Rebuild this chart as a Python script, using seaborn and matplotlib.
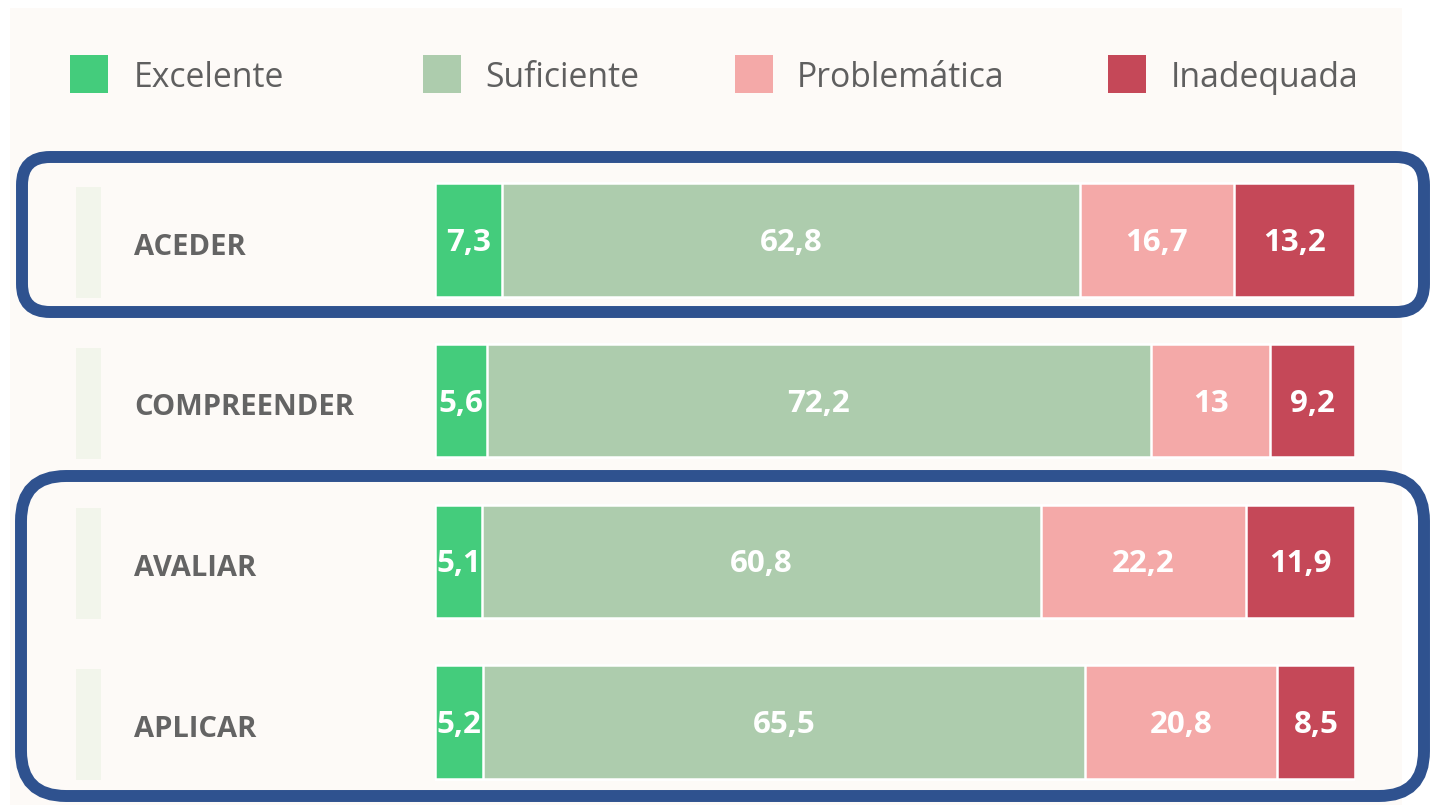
import numpy as np
import pandas as pd
import matplotlib
matplotlib.use("Agg")
import matplotlib.pyplot as plt
import matplotlib.transforms as mtransforms
from matplotlib.patches import Rectangle, FancyBboxPatch
import seaborn as sns

# ---- data ----
categories = ["ACEDER", "COMPREENDER", "AVALIAR", "APLICAR"]
levels = ["Excelente", "Suficiente", "Problemática", "Inadequada"]
excelente = [7.3, 5.6, 5.1, 5.2]
suficiente = [62.8, 72.2, 60.8, 65.5]
problematica = [16.7, 13.0, 22.2, 20.8]
inadequada = [13.2, 9.2, 11.9, 8.5]
colors = ["#44CC7C", "#ADCCAD", "#F4A9A8", "#C54858"]

values = np.array([excelente, suficiente, problematica, inadequada])  # levels x cats
cums = np.cumsum(values, axis=0)
starts = cums - values

rows = []
for li, lvl in enumerate(levels):
    for ci, cat in enumerate(categories):
        rows.append({"cat": cat, "level": lvl, "value": values[li, ci],
                     "cum": cums[li, ci], "start": starts[li, ci]})
df = pd.DataFrame(rows)

sns.set_theme(style="white")
plt.rcParams["font.family"] = ["Open Sans", "DejaVu Sans"]

W, H = 1430, 805
fig = plt.figure(figsize=(W / 100, H / 100), dpi=100, facecolor="white")


def fx(x):
    return x / W


def fy(y):
    return 1 - y / H


# panel background
fig.add_artist(Rectangle((fx(10), fy(805)), fx(1392), 797 / H,
                         transform=fig.transFigure, facecolor="#FDFAF7",
                         edgecolor="none", zorder=-5))

# main axes: x 0..100 maps to px 436..1354
ax = fig.add_axes([fx(435), 1 - 802.3 / H, 920 / W, 642.6 / H])
ax.set_facecolor("none")

for li in reversed(range(len(levels))):
    sub = df[df["level"] == levels[li]]
    sns.barplot(data=sub, x="cum", y="cat", order=categories, color=colors[li],
                orient="h", width=0.706, ax=ax, edgecolor="#FFFFFF",
                linewidth=1.8, saturation=1)

ax.set_xlim(0, 100)
ax.set_ylim(3.5, -0.5)
ax.set_xlabel("")
ax.set_ylabel("")
ax.set_xticks([])
ax.set_yticks([])
for s in ax.spines.values():
    s.set_visible(False)

# value labels
for _, r in df.iterrows():
    ci = categories.index(r["cat"])
    txt = f"{r['value']:g}".replace(".", ",")
    ax.text(r["start"] + r["value"] / 2, ci + 0.018, txt, ha="center", va="center",
            color="white", fontsize=22.5, fontweight="bold")

# category labels & left strips
blend = mtransforms.blended_transform_factory(fig.transFigure, ax.transData)
for ci, cat in enumerate(categories):
    ax.add_patch(Rectangle((fx(76), ci - 0.33), 25 / W, 0.69, transform=blend,
                           facecolor="#F2F5EB", edgecolor="none", clip_on=False))
    ax.text(fx(134), ci + 0.045, cat, transform=blend, ha="left", va="center",
            color="#646464", fontsize=21, fontweight="bold", clip_on=False)

# legend
leg_sq = [70, 423, 735, 1108]
leg_tx = [134, 485, 797, 1171]
for lvl, c, sx, tx in zip(levels, colors, leg_sq, leg_tx):
    fig.add_artist(Rectangle((fx(sx), fy(93)), 38 / W, 38 / H,
                             transform=fig.transFigure, facecolor=c,
                             edgecolor="none"))
    fig.text(fx(tx), fy(78), lvl, ha="left", va="center", color="#5F5F5F",
             fontsize=24.3)

# highlight boxes (pixel coords)
ident = mtransforms.IdentityTransform()
for (x0, y0, x1, y1, rad) in [(22, 157, 1424, 312, 28), (21, 476, 1424, 796, 45)]:
    fig.add_artist(FancyBboxPatch((x0, H - y1), x1 - x0, y1 - y0,
                                  boxstyle=f"round,pad=0,rounding_size={rad}",
                                  transform=ident, facecolor="none",
                                  edgecolor="#2F528F", linewidth=8.6, zorder=5))

fig.savefig("out.png", dpi=100, facecolor="white")
